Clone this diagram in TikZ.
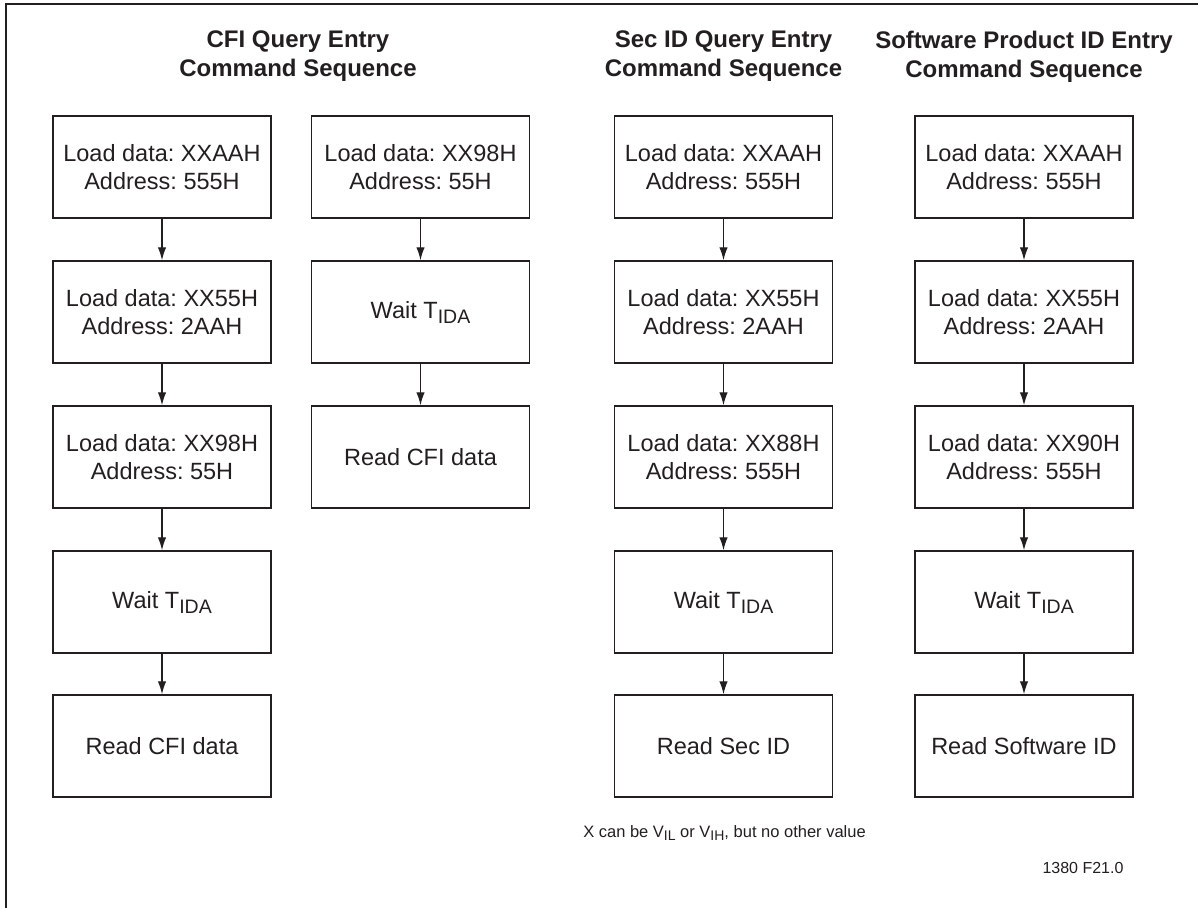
\documentclass[tikz,border=0pt]{standalone}
\usepackage{fontspec}
\setmainfont{Liberation Sans}
\usetikzlibrary{arrows.meta}
\definecolor{ink}{HTML}{231F20}
\frenchspacing
\newcommand{\subtx}[1]{\raisebox{-5pt}{\fontsize{19.5}{20}\selectfont #1}}
\newcommand{\subsm}[1]{\raisebox{-3.5pt}{\fontsize{14}{15}\selectfont #1}}
\begin{document}
\begin{tikzpicture}[x=1pt,y=-1pt,
  stepbox/.style={draw=ink, line width=1.5pt, minimum width=218pt, minimum height=102pt,
    inner sep=0pt, align=center, text=ink, font=\fontsize{23.5}{28}\selectfont\frenchspacing},
  title/.style={align=center, text=ink, font=\fontsize{24}{29}\selectfont\bfseries},
  note/.style={text=ink, inner sep=0pt, font=\fontsize{16.5}{18}\selectfont},
  flow/.style={draw=ink, line width=1.3pt, -{Latex[length=13pt,width=8.5pt]}}]
\useasboundingbox (0,0) rectangle (1198,907);
\draw[ink, line width=2.4pt] (6,912) -- (6,4) -- (1202,4);

% titles
\node[title] (t1) at (298,56.5) {CFI Query Entry\\Command Sequence};
\node[title] (t3) at (723.5,56.5) {Sec ID Query Entry\\Command Sequence};
\node[title] (t4) at (1024,56.5) {Software Product ID Entry\\Command Sequence};

% column 1
\node[stepbox] (a1) at (162,167) {Load data: XXAAH\\Address: 555H};
\node[stepbox] (a2) at (162,312) {Load data: XX55H\\Address: 2AAH};
\node[stepbox] (a3) at (162,457) {Load data: XX98H\\Address: 55H};
\node[stepbox] (a4) at (162,602) {Wait T\subtx{IDA}};
\node[stepbox] (a5) at (162,746) {Read CFI data};

% column 2
\node[stepbox] (b1) at (420.5,167) {Load data: XX98H\\Address: 55H};
\node[stepbox] (b2) at (420.5,312) {Wait T\subtx{IDA}};
\node[stepbox] (b3) at (420.5,457) {Read CFI data};

% column 3
\node[stepbox] (c1) at (723.5,167) {Load data: XXAAH\\Address: 555H};
\node[stepbox] (c2) at (723.5,312) {Load data: XX55H\\Address: 2AAH};
\node[stepbox] (c3) at (723.5,457) {Load data: XX88H\\Address: 555H};
\node[stepbox] (c4) at (723.5,602) {Wait T\subtx{IDA}};
\node[stepbox] (c5) at (723.5,746) {Read Sec ID};

% column 4
\node[stepbox] (d1) at (1024,167) {Load data: XXAAH\\Address: 555H};
\node[stepbox] (d2) at (1024,312) {Load data: XX55H\\Address: 2AAH};
\node[stepbox] (d3) at (1024,457) {Load data: XX90H\\Address: 555H};
\node[stepbox] (d4) at (1024,602) {Wait T\subtx{IDA}};
\node[stepbox] (d5) at (1024,746) {Read Software ID};

% connectors
\foreach \p/\q in {a1/a2,a2/a3,a3/a4,a4/a5,b1/b2,b2/b3,c1/c2,c2/c3,c3/c4,c4/c5,d1/d2,d2/d3,d3/d4,d4/d5}
  \draw[flow] (\p.south) -- (\q.north);

% notes
\node[note] (n1) at (724.5,833) {X can be V\subsm{IL} or V\subsm{IH}, but no other value};
\node[note, font=\fontsize{16}{18}\selectfont] (n2) at (1083,868) {1380 F21.0};
\end{tikzpicture}
\end{document}
